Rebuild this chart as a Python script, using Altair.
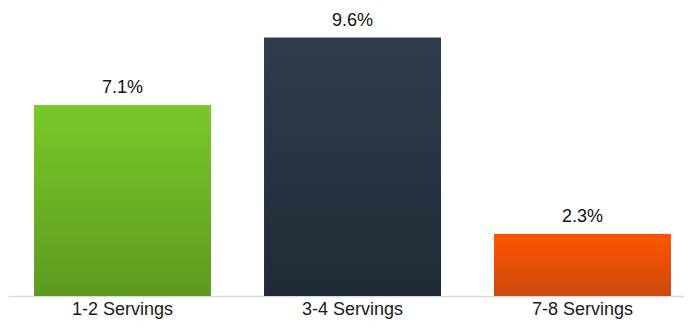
import altair as alt
import pandas as pd

categories = ["1-2 Servings", "3-4 Servings", "7-8 Servings"]
values = [7.1, 9.6, 2.3]
labels = ["7.1%", "9.6%", "2.3%"]
grad_top = ["#79C929", "#2F3D4D", "#FF5500"]
grad_bottom = ["#5D9A20", "#212B36", "#CC4A0E"]

df = pd.DataFrame({"cat": categories, "val": values, "label": labels})

x_enc = alt.X(
    "cat:N",
    sort=categories,
    title=None,
    scale=alt.Scale(paddingInner=0.2304, paddingOuter=0.0848, align=0.667),
    axis=alt.Axis(
        labelAngle=0,
        labelFontSize=18,
        labelFont="Liberation Sans",
        labelColor="#1a1a1a",
        labelPadding=4,
        ticks=False,
        tickSize=0,
        domainColor="#d9d9d9",
        domainWidth=1.5,
        grid=False,
    ),
)
y_enc = alt.Y("val:Q", scale=alt.Scale(domain=[0, 10.7], nice=False), axis=None)

layers = []
for i, c in enumerate(categories):
    layers.append(
        alt.Chart(df)
        .transform_filter(alt.datum.cat == c)
        .mark_bar(
            color=alt.Gradient(
                gradient="linear",
                stops=[
                    alt.GradientStop(color=grad_top[i], offset=0),
                    alt.GradientStop(color=grad_bottom[i], offset=1),
                ],
                x1=1, x2=1, y1=0, y2=1,
            )
        )
        .encode(x=x_enc, y=y_enc)
    )

text = (
    alt.Chart(df)
    .mark_text(fontSize=18, font="Liberation Sans", color="#111111", baseline="alphabetic", dy=-12)
    .encode(x=alt.X("cat:N", sort=categories), y="val:Q", text="label:N")
)

chart = (
    alt.layer(*layers, text)
    .properties(
        width=676,
        height=288,
        autosize=alt.AutoSizeParams(type="none"),
        padding={"left": 0, "top": 0, "right": 0, "bottom": 25},
    )
    .configure_view(stroke=None)
)

chart.save("out.html", embed_options={"renderer": "svg", "actions": False})
